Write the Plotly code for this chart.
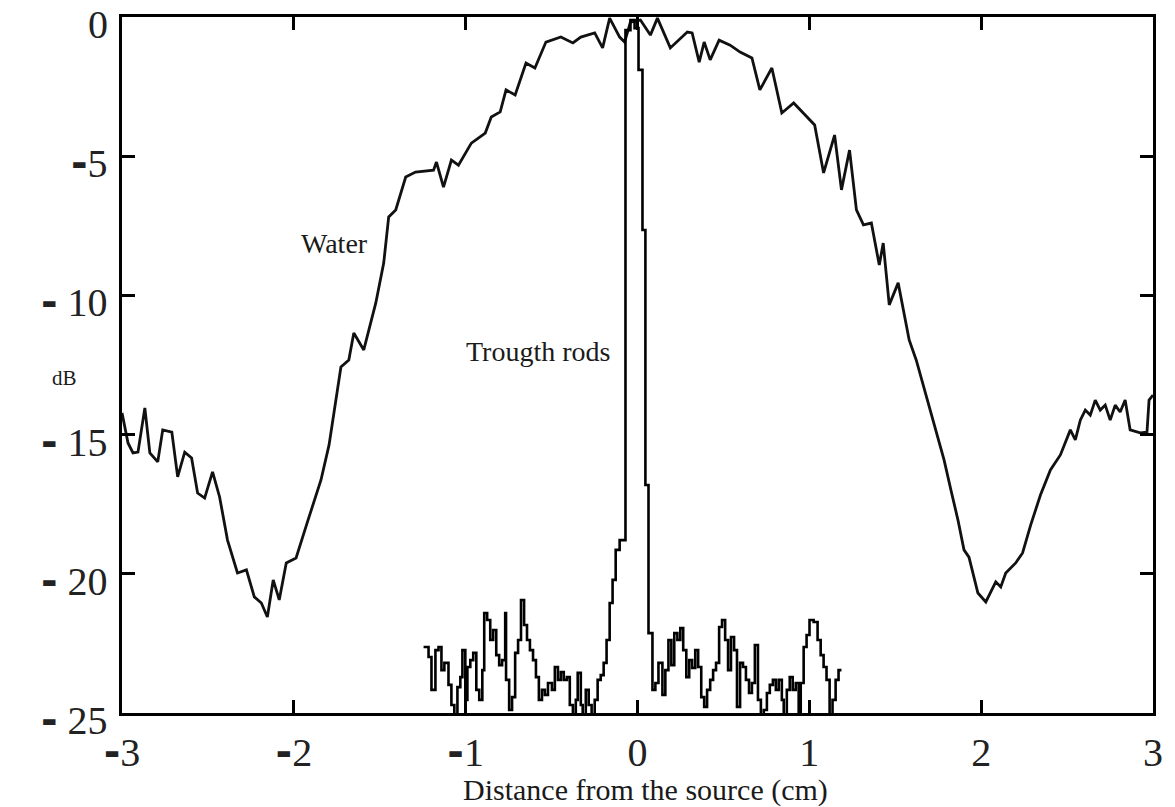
import plotly.graph_objects as go

# Water: field level across the source plane (cm, dB)
water_x = [-3.000, -2.965, -2.936, -2.907, -2.867, -2.838, -2.792, -2.763, -2.710, -2.676,
           -2.635, -2.595, -2.560, -2.519, -2.473, -2.432, -2.386, -2.328, -2.276, -2.230,
           -2.189, -2.154, -2.120, -2.085, -2.044, -1.987, -1.923, -1.842, -1.795, -1.755,
           -1.726, -1.680, -1.651, -1.593, -1.564, -1.523, -1.477, -1.448, -1.407, -1.349,
           -1.292, -1.187, -1.170, -1.129, -1.083, -1.042, -0.967, -0.886, -0.851, -0.799,
           -0.765, -0.712, -0.649, -0.597, -0.533, -0.446, -0.376, -0.330, -0.249, -0.203,
           -0.162, -0.104, -0.075, -0.041, 0.017, 0.075, 0.116, 0.191, 0.290, 0.318,
           0.359, 0.388, 0.423, 0.475, 0.539, 0.597, 0.666, 0.712, 0.782, 0.840,
           0.909, 0.984, 1.031, 1.083, 1.147, 1.187, 1.234, 1.274, 1.315, 1.361,
           1.407, 1.430, 1.465, 1.517, 1.581, 1.622, 1.679, 1.737, 1.784, 1.824,
           1.865, 1.900, 1.929, 1.981, 2.027, 2.085, 2.114, 2.143, 2.201, 2.241,
           2.288, 2.345, 2.403, 2.461, 2.519, 2.548, 2.577, 2.606, 2.635, 2.664,
           2.693, 2.722, 2.751, 2.780, 2.809, 2.838, 2.867, 2.925, 2.965, 2.977, 3.000]
water_db = [-14.22, -15.30, -15.66, -15.63, -14.04, -15.66, -15.98, -14.83, -14.91, -16.52,
            -15.63, -15.84, -17.10, -17.28, -16.34, -17.24, -18.79, -19.97, -19.86, -20.83,
            -21.05, -21.55, -20.22, -20.94, -19.61, -19.43, -18.18, -16.63, -15.37, -13.65,
            -12.57, -12.32, -11.35, -11.96, -11.24, -10.27, -8.84, -7.18, -6.93, -5.75,
            -5.57, -5.50, -5.21, -6.11, -5.14, -5.32, -4.53, -4.17, -3.59, -3.41,
            -2.62, -2.80, -1.65, -1.83, -0.90, -0.72, -0.93, -0.72, -0.57, -1.11,
            -0.04, -0.72, -0.90, -0.18, -0.11, -0.65, -0.04, -1.11, -0.54, -0.57,
            -1.62, -0.90, -1.54, -0.83, -1.01, -1.26, -1.47, -2.62, -1.83, -3.45,
            -3.09, -3.59, -3.88, -5.60, -4.24, -6.21, -4.78, -6.93, -7.47, -7.40,
            -8.91, -8.12, -10.34, -9.55, -11.60, -12.32, -13.58, -14.83, -15.91, -16.99,
            -18.07, -19.14, -19.40, -20.69, -21.01, -20.29, -20.47, -19.97, -19.61, -19.25,
            -18.25, -17.17, -16.27, -15.73, -14.83, -15.19, -14.48, -14.12, -14.30, -13.76,
            -14.12, -13.94, -14.48, -13.94, -14.19, -13.76, -14.83, -14.94, -14.91, -13.76, -13.58]

# Through the rods: focused spot (cm, dB)
rods_x = [-1.245, -1.216, -1.199, -1.176, -1.158, -1.141, -1.124, -1.100, -1.083, -1.066,
          -1.048, -1.031, -1.019, -1.002, -0.990, -0.973, -0.956, -0.938, -0.921, -0.903,
          -0.892, -0.875, -0.857, -0.840, -0.822, -0.805, -0.788, -0.770, -0.765, -0.747,
          -0.730, -0.712, -0.695, -0.678, -0.660, -0.643, -0.626, -0.608, -0.591, -0.574,
          -0.556, -0.539, -0.521, -0.498, -0.481, -0.463, -0.446, -0.429, -0.411, -0.394,
          -0.376, -0.359, -0.348, -0.330, -0.319, -0.301, -0.284, -0.267, -0.249, -0.232,
          -0.214, -0.197, -0.180, -0.162, -0.145, -0.127, -0.104, -0.070, -0.041, -0.017,
          0.006, 0.029, 0.046, 0.064, 0.087, 0.104, 0.122, 0.145, 0.162, 0.180,
          0.197, 0.214, 0.232, 0.249, 0.266, 0.284, 0.301, 0.318, 0.336, 0.353,
          0.371, 0.388, 0.405, 0.423, 0.440, 0.457, 0.475, 0.492, 0.510, 0.527,
          0.544, 0.562, 0.579, 0.597, 0.614, 0.631, 0.649, 0.666, 0.683, 0.701,
          0.718, 0.735, 0.753, 0.770, 0.788, 0.805, 0.822, 0.840, 0.851, 0.869,
          0.886, 0.903, 0.921, 0.938, 0.950, 0.967, 0.984, 1.001, 1.025, 1.048,
          1.066, 1.083, 1.100, 1.118, 1.135, 1.153, 1.170, 1.187]
rods_db = [-22.63, -22.99, -24.17, -22.74, -22.63, -23.46, -23.20, -23.99, -24.71, -25.32,
           -24.07, -23.71, -22.74, -24.53, -23.35, -23.10, -22.84, -24.17, -24.53, -23.46,
           -21.41, -21.66, -22.38, -22.02, -22.92, -23.28, -23.10, -21.41, -23.81, -24.89,
           -24.43, -22.84, -22.38, -20.94, -21.84, -22.38, -22.74, -23.10, -23.71, -24.53,
           -24.17, -24.35, -23.92, -24.17, -23.35, -23.81, -23.53, -23.81, -23.71, -24.71,
           -25.61, -24.53, -23.56, -24.71, -25.50, -24.17, -24.71, -25.43, -24.53, -23.81,
           -23.64, -23.20, -22.38, -21.05, -20.22, -19.14, -18.79, -0.47, -0.11, -0.40,
           -1.90, -7.65, -16.81, -22.13, -24.17, -23.92, -23.20, -24.35, -23.46, -22.38,
           -23.28, -22.13, -22.38, -21.95, -22.74, -23.71, -23.10, -23.38, -22.74, -23.35,
           -24.43, -24.78, -24.17, -23.81, -23.46, -23.20, -21.91, -21.66, -22.38, -23.46,
           -22.27, -22.74, -24.78, -23.20, -23.35, -23.81, -24.28, -23.92, -22.56, -24.53,
           -25.32, -24.89, -24.28, -23.99, -23.81, -24.17, -23.81, -24.53, -25.50, -24.17,
           -23.71, -24.17, -23.92, -25.61, -23.92, -22.63, -22.20, -21.66, -21.73, -22.38,
           -22.92, -23.35, -23.81, -25.61, -24.53, -23.81, -23.46, -23.46]

x_ticks = [-3, -2, -1, 0, 1, 2, 3]
y_ticks = [0, -5, -10, -15, -20, -25]

SERIF = "Liberation Serif, Times New Roman, serif"
DASH = "<span style=\"font-family:'DejaVu Sans';font-weight:bold\">-</span>"


def x_label(v):
    return (DASH + str(abs(v))) if v < 0 else str(v)


def y_label(v):
    if v == 0:
        return "0"
    if abs(v) < 10:
        return DASH + str(abs(v))
    return DASH + " " + str(abs(v))


fig = go.Figure()
fig.add_trace(go.Scatter(x=water_x, y=water_db, mode="lines", name="Water",
                         line=dict(color="#111111", width=2.8), showlegend=False))
fig.add_trace(go.Scatter(x=rods_x, y=rods_db, mode="lines", name="Trougth rods",
                         line=dict(color="#000000", width=2.6, shape="hv"), showlegend=False))

axis_common = dict(showline=True, linecolor="black", linewidth=3, mirror="ticks",
                   ticks="inside", ticklen=13, tickwidth=3, tickcolor="black",
                   showgrid=False, zeroline=False)

fig.update_xaxes(range=[-3, 3], tickvals=x_ticks, ticktext=[x_label(v) for v in x_ticks],
                 ticklabelstandoff=2,
                 tickfont=dict(family=SERIF, size=40, color="#222222"), **axis_common)
fig.update_yaxes(range=[-25, 0], tickvals=y_ticks, showticklabels=False, **axis_common)

# y tick labels, right-aligned left of the frame
for v in y_ticks:
    fig.add_annotation(x=-0.0116, y=v, xref="paper", yref="y", xanchor="right",
                       yanchor="middle", yshift=-7, text=y_label(v), showarrow=False,
                       font=dict(family=SERIF, size=40, color="#222222"))

fig.add_annotation(x=-1.761, y=-8.12, xref="x", yref="y", text="Water", showarrow=False,
                   font=dict(family=SERIF, size=28, color="#1a1a1a"))
fig.add_annotation(x=-0.579, y=-12.03, xref="x", yref="y", text="Trougth rods", showarrow=False,
                   font=dict(family=SERIF, size=28, color="#1a1a1a"))
fig.add_annotation(x=-0.0695, y=-12.96, xref="paper", yref="y", text="dB", showarrow=False,
                   font=dict(family=SERIF, size=21, color="#1a1a1a"))
fig.add_annotation(x=0.046, y=-0.1106, xref="x", yref="paper", yanchor="middle",
                   text="Distance from the source (cm)", showarrow=False,
                   font=dict(family=SERIF, size=30, color="#1a1a1a"))

fig.update_layout(width=1175, height=807, margin=dict(l=122, r=17, t=17, b=94),
                  paper_bgcolor="white", plot_bgcolor="white")

fig.write_html("out.html")
